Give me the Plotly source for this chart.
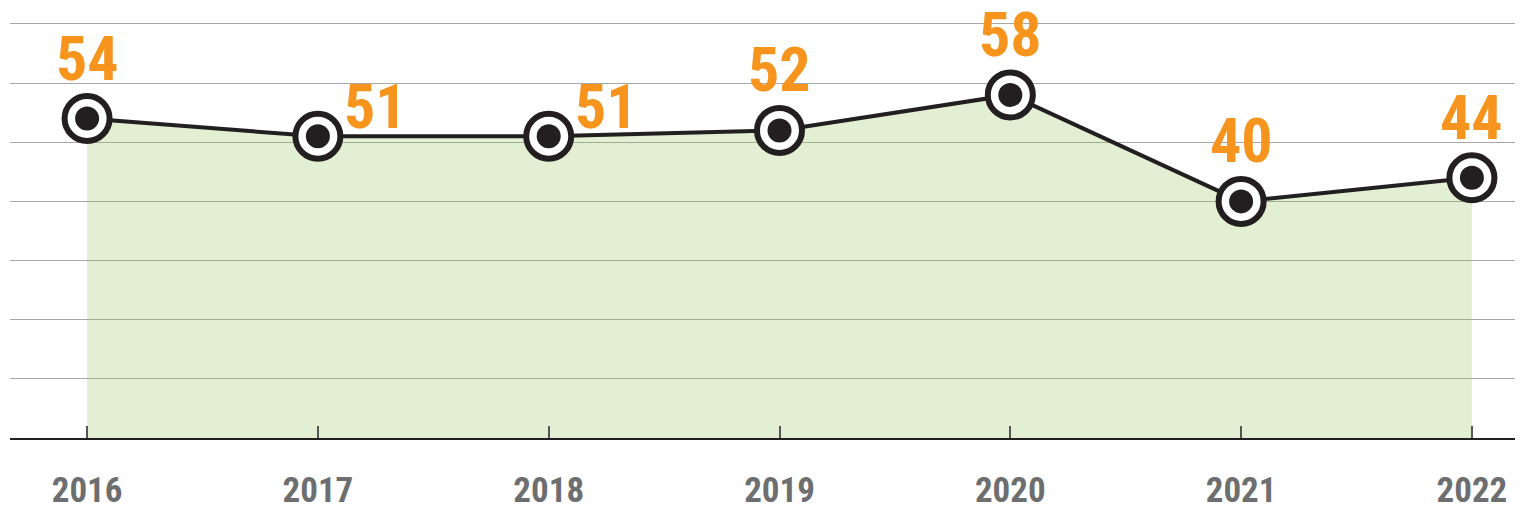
import plotly.graph_objects as go

# data
years = [2016, 2017, 2018, 2019, 2020, 2021, 2022]
values = [54, 51, 51, 52, 58, 40, 44]
# where the value label sits relative to its point
label_side = ['top', 'right', 'right', 'top', 'top', 'top', 'top']

LINE = '#231f20'
ORANGE = '#f7941d'
GREY = '#6d6e70'
FONT = 'Roboto Condensed, Liberation Sans Narrow, Roboto'

fig = go.Figure()

# green area under the line (semi transparent so the grid shows through)
fig.add_trace(go.Scatter(x=years, y=values, mode='lines', fill='tozeroy',
                         fillcolor='rgba(140,190,80,0.25)',
                         line=dict(color=LINE, width=4), hoverinfo='skip'))
# outer ring
fig.add_trace(go.Scatter(x=years, y=values, mode='markers', cliponaxis=False,
                         marker=dict(size=45, color='white',
                                     line=dict(color=LINE, width=6))))
# inner dot
fig.add_trace(go.Scatter(x=years, y=values, mode='markers', cliponaxis=False,
                         marker=dict(size=24, color=LINE)))

for yr, v, side in zip(years, values, label_side):
    if side == 'right':
        fig.add_annotation(x=yr, y=v, text=str(v), showarrow=False,
                           xanchor='left', yanchor='bottom', xshift=24, yshift=-9,
                           font=dict(family=FONT, size=62, color=ORANGE))
    else:
        fig.add_annotation(x=yr, y=v, text=str(v), showarrow=False,
                           xanchor='center', yanchor='bottom', yshift=22,
                           font=dict(family=FONT, size=62, color=ORANGE))

# page body adds an 8px offset, margins are set to compensate
fig.update_layout(
    width=1523, height=510,
    margin=dict(l=2, r=0, t=10, b=80),
    plot_bgcolor='white', paper_bgcolor='white',
    showlegend=False,
    font=dict(family=FONT),
    xaxis=dict(range=[2015.666, 2022.256], tickmode='array', tickvals=years,
               ticktext=[str(y) for y in years], ticks='inside', ticklen=12,
               tickwidth=1.5, tickcolor='#555555', showgrid=False,
               showline=True, linecolor=LINE, linewidth=1.5, zeroline=False,
               ticklabelstandoff=20, automargin=False,
               tickfont=dict(family=FONT, size=35, color=GREY, weight='bold')),
    yaxis=dict(range=[0, 71], dtick=10, showticklabels=False,
               showgrid=True, gridcolor='#a7a7a7', gridwidth=1.2,
               zeroline=False, fixedrange=True, automargin=False),
)
fig.update_annotations(font_weight='bold')

fig.write_html("out.html")
